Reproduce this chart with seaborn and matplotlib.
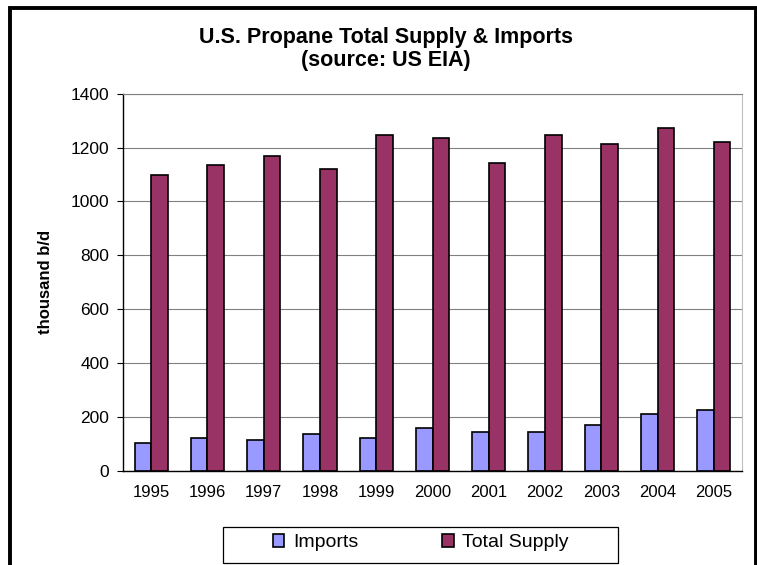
import pandas as pd
import matplotlib.pyplot as plt
import seaborn as sns
from matplotlib.patches import Rectangle

# Dados (mil barris/dia)
anos = ["1995", "1996", "1997", "1998", "1999", "2000",
        "2001", "2002", "2003", "2004", "2005"]
importacoes = [104, 120, 114, 136, 120, 157, 143, 143, 170, 209, 224]
oferta_total = [1098, 1136, 1170, 1120, 1247, 1235, 1143, 1247, 1214, 1274, 1219]
series = ["Imports", "Total Supply"]
cores = ["#9999FF", "#993366"]
yticks = [0, 200, 400, 600, 800, 1000, 1200, 1400]

df = pd.DataFrame({
    "ano": anos * 2,
    "valor": importacoes + oferta_total,
    "serie": [series[0]] * len(anos) + [series[1]] * len(anos),
})

sns.set_style("white")
plt.rcParams["font.family"] = ["Liberation Sans", "DejaVu Sans"]
plt.rcParams["text.color"] = "black"
plt.rcParams["axes.labelcolor"] = "black"
plt.rcParams["xtick.color"] = "black"
plt.rcParams["ytick.color"] = "black"

fig = plt.figure(figsize=(7.57, 5.65), dpi=100)
ax = fig.add_axes([0.1625, 0.1669, 0.8177, 0.6673])

sns.barplot(data=df, x="ano", y="valor", hue="serie", palette=cores,
            width=0.59, edgecolor="black", linewidth=1.2, saturation=1,
            ax=ax)

ax.set_xlim(-0.5, len(anos) - 0.5)
ax.set_ylim(0, 1400)
ax.set_yticks(yticks)
ax.set_xticks([i - 0.5 for i in range(len(anos) + 1)], minor=True)

ax.yaxis.grid(True, color="#808080", linewidth=0.8)
ax.set_axisbelow(True)

ax.tick_params(axis="x", which="major", length=0, pad=10, labelsize=12)
ax.tick_params(axis="x", which="minor", length=4, width=0.8,
               direction="out", color="black")
ax.tick_params(axis="y", length=4, width=0.8, direction="out",
               color="black", pad=6, labelsize=12.5, left=True)

for lado in ["left", "bottom"]:
    ax.spines[lado].set_color("black")
    ax.spines[lado].set_linewidth(1)
ax.spines["top"].set_color("#808080")
ax.spines["right"].set_color("#BFBFBF")

ax.set_xlabel("")
ax.set_ylabel("thousand b/d", fontsize=12, fontweight="bold")
ax.yaxis.set_label_coords(-0.113, 0.5)

# Título
fig.text(0.51, 0.9244, "U.S. Propane Total Supply & Imports",
         ha="center", va="baseline", fontsize=15.5, fontweight="bold")
fig.text(0.51, 0.883, "(source: US EIA)",
         ha="center", va="baseline", fontsize=15.5, fontweight="bold")

# Legenda
handles, labels = ax.get_legend_handles_labels()
ax.legend(handles, labels, loc="center", ncol=2, frameon=False,
          bbox_to_anchor=(0.556, 0.039), bbox_transform=fig.transFigure,
          fontsize=14, handlelength=0.6, handleheight=0.6,
          handletextpad=0.45, columnspacing=4.3)
fig.patches.append(Rectangle((222.7 / 757, 2 / 565), (618 - 222.7) / 757,
                             36 / 565, transform=fig.transFigure,
                             fill=False, edgecolor="black", linewidth=0.9))

# Moldura externa
fig.patches.append(Rectangle((9.7 / 757, -20 / 565), (755.5 - 9.7) / 757,
                             (565 - 7.5 + 20) / 565, transform=fig.transFigure,
                             fill=False, edgecolor="black", linewidth=2.8,
                             clip_on=False))

fig.savefig("out.png", dpi=100)
